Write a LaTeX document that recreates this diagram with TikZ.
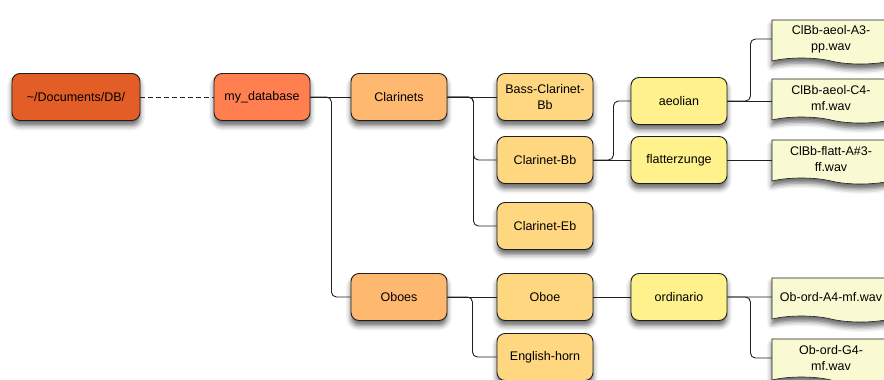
\documentclass[tikz,border=0pt]{standalone}
\usepackage{fontspec}
\setmainfont{Liberation Sans}
\usepackage{tikz}
\usetikzlibrary{arrows.meta,calc,shapes.symbols,shadows.blur}
\definecolor{dbOrange}{HTML}{E35D26}
\definecolor{rootCoral}{HTML}{FF7F50}
\definecolor{grpOrange}{HTML}{FFB870}
\definecolor{instYellow}{HTML}{FFD780}
\definecolor{techYellow}{HTML}{FFF18C}
\definecolor{wavPaper}{HTML}{FAFAD2}
\definecolor{lineDk}{gray}{0.12}
\tikzset{
  shad/.style    = {blur shadow={shadow xshift=0pt, shadow yshift=-5pt,
                                 shadow blur radius=5pt, shadow opacity=60}},
  box/.style     = {draw=lineDk, line width=0.9pt, rounded corners=8pt,
                    minimum width=96pt, minimum height=47pt, inner sep=2pt,
                    align=center, font=\fontsize{12.5}{16}\selectfont, shad},
  boxdb/.style   = {box, fill=dbOrange, minimum width=128pt},
  boxroot/.style = {box, fill=rootCoral},
  boxgrp/.style  = {box, fill=grpOrange},
  boxinst/.style = {box, fill=instYellow},
  boxtech/.style = {box, fill=techYellow},
  wav/.style     = {tape, tape bend top=none, tape bend bottom=out and in,
                    tape bend height=6pt, draw=lineDk, line width=0.6pt,
                    fill=wavPaper, minimum width=118pt, minimum height=44pt,
                    inner sep=2pt, align=center,
                    font=\fontsize{12.5}{16}\selectfont, shad},
  conn/.style    = {draw=lineDk, line width=0.9pt, rounded corners=5pt},
  connd/.style   = {conn, dash pattern=on 5pt off 3pt},
}

\begin{document}
\begin{tikzpicture}[x=1pt,y=-1pt]
  \useasboundingbox (0,0) rectangle (884,380);

  % folders
  \node[boxdb]   (db)    at (76,97)   {\char"7E/Documents/DB/};
  \node[boxroot] (mydb)  at (262,97)  {my\_database};
  \node[boxgrp]  (clar)  at (399,97)  {Clarinets};
  \node[boxgrp]  (oboes) at (399,297) {Oboes};

  \node[boxinst] (bass)  at (545,97)  {Bass-Clarinet-\\Bb};
  \node[boxinst] (clbb)  at (545,160) {Clarinet-Bb};
  \node[boxinst] (cleb)  at (545,226) {Clarinet-Eb};
  \node[boxinst] (oboe)  at (545,297) {Oboe};
  \node[boxinst] (ehorn) at (545,357) {English-horn};

  \node[boxtech] (aeol)  at (679,101) {aeolian};
  \node[boxtech] (flatt) at (679,160) {flatterzunge};
  \node[boxtech] (ord)   at (679,297) {ordinario};

  % sound files
  \node[wav] (aeolA) at (831,39)  {ClBb-aeol-A3-\\pp.wav};
  \node[wav] (aeolC) at (831,98)  {ClBb-aeol-C4-\\mf.wav};
  \node[wav] (flA)   at (831,159) {ClBb-flatt-A\#3-\\ff.wav};
  \node[wav] (ordA)  at (831,297) {Ob-ord-A4-mf.wav};
  \node[wav] (ordG)  at (831,358) {Ob-ord-G4-\\mf.wav};

  % connectors
  \draw[connd] (db) -- (mydb);
  \draw[conn] (mydb) -- (clar);
  \draw[conn] (mydb.east) -- ++(21,0) |- (oboes.west);
  \draw[conn] (clar) -- (bass);
  \draw[conn] (clar.east) -- ++(26,0) |- (clbb.west);
  \draw[conn] (clar.east) -- ++(26,0) |- (cleb.west);
  \draw[conn] (clbb.east) -- ++(20,0) |- (aeol.west);
  \draw[conn] (clbb) -- (flatt);
  \draw[conn] (aeol.east) -- ++(23,0) |- (aeolA.west);
  \draw[conn] (aeol.east) -- (aeol.east -| aeolC.west);
  \draw[conn] (flatt.east) -- (flatt.east -| flA.west);
  \draw[conn] (oboes) -- (oboe);
  \draw[conn] (oboes.east) -- ++(25,0) |- (ehorn.west);
  \draw[conn] (oboe) -- (ord);
  \draw[conn] (ord) -- (ordA);
  \draw[conn] (ord.east) -- ++(23,0) |- (ordG.west);
\end{tikzpicture}
\end{document}
